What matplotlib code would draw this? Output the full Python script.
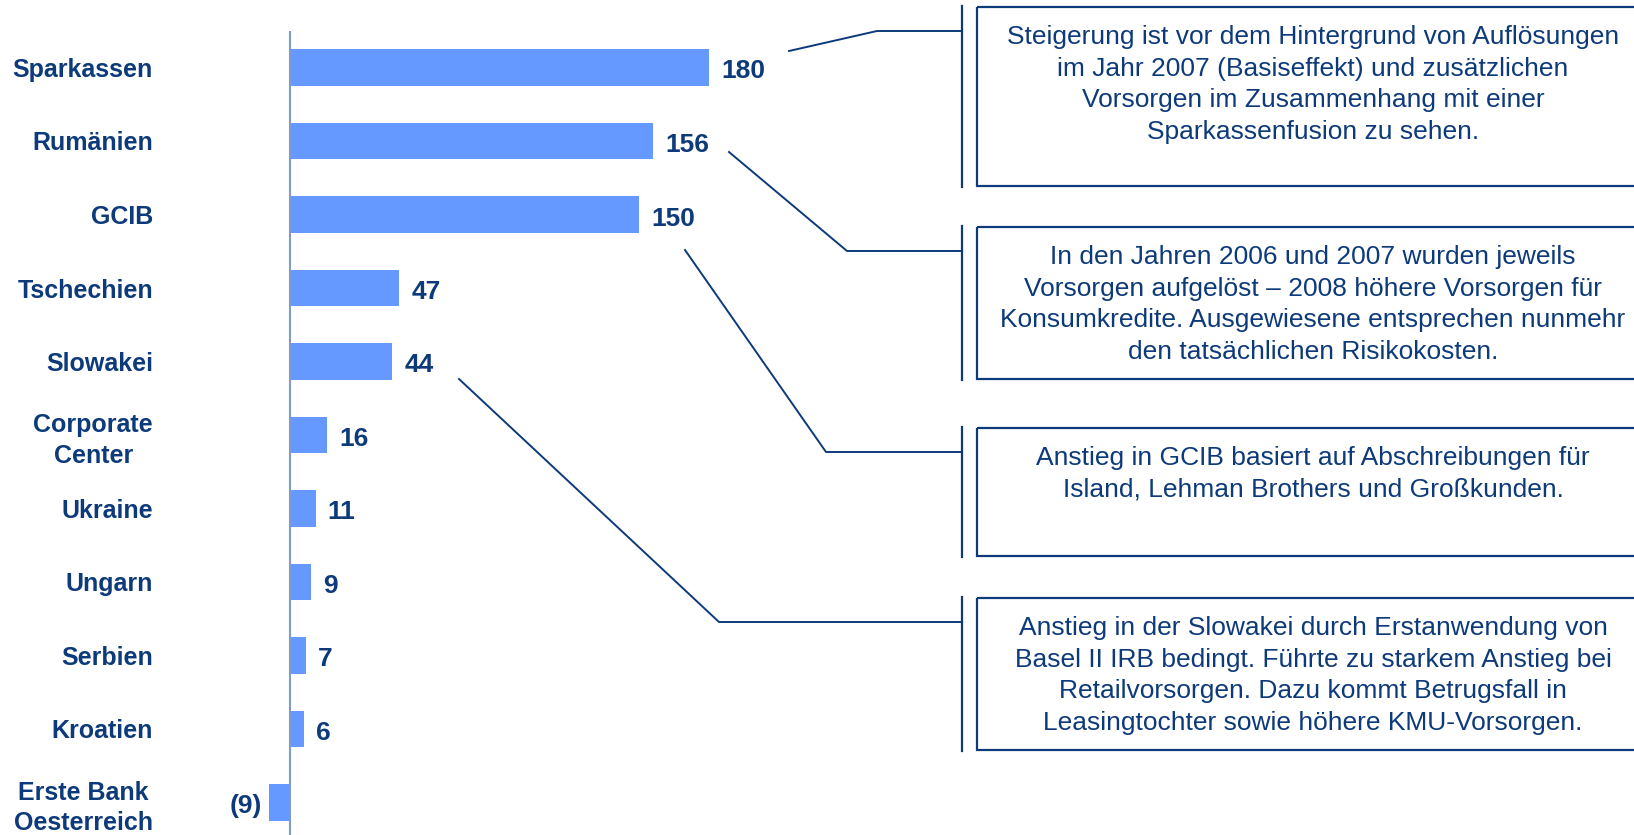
import numpy as np
import matplotlib
matplotlib.use("Agg")
import matplotlib.pyplot as plt
from matplotlib.patches import Rectangle

plt.rcParams['font.family'] = ['Liberation Sans', 'DejaVu Sans']

# data
categories = ["Sparkassen", "Rumänien", "GCIB", "Tschechien", "Slowakei",
              "Corporate\nCenter", "Ukraine", "Ungarn", "Serbien", "Kroatien",
              "Erste Bank\nOesterreich"]
values = [180, 156, 150, 47, 44, 16, 11, 9, 7, 6, -9]

notes = [
    "Steigerung ist vor dem Hintergrund von Auflösungen\nim Jahr 2007 (Basiseffekt) und zusätzlichen\n"
    "Vorsorgen im Zusammenhang mit einer\nSparkassenfusion zu sehen.",
    "In den Jahren 2006 und 2007 wurden jeweils\nVorsorgen aufgelöst – 2008 höhere Vorsorgen für\n"
    "Konsumkredite. Ausgewiesene entsprechen nunmehr\nden tatsächlichen Risikokosten.",
    "Anstieg in GCIB basiert auf Abschreibungen für\nIsland, Lehman Brothers und Großkunden.",
    "Anstieg in der Slowakei durch Erstanwendung von\nBasel II IRB bedingt. Führte zu starkem Anstieg bei\n"
    "Retailvorsorgen. Dazu kommt Betrugsfall in\nLeasingtochter sowie höhere KMU-Vorsorgen.",
]

dark = '#0D3A7A'
bar_col = '#6699FF'
axis_col = '#7F9BCB'

W, H = 1634, 835
fig = plt.figure(figsize=(W / 100, H / 100), dpi=100)

# bar axes: zero line at x=290 px, 2.328 px per unit, bars 73.5 px apart
ax_l, ax_r = 250, 950
px_unit = 2.328
ax = fig.add_axes([ax_l / W, 0, (ax_r - ax_l) / W, (H - 31) / H])
ax.set_xlim((ax_l - 290) / px_unit, (ax_r - 290) / px_unit)
ax.set_ylim((H - 67.5) / 73.5, (31 - 67.5) / 73.5)
ax.patch.set_alpha(0)
for s in ax.spines.values():
    s.set_visible(False)

y = np.arange(len(categories))
ax.barh(y, values, height=0.5, color=bar_col, zorder=2)
ax.axvline(0, color=axis_col, lw=1.5, zorder=3)

ax.set_xticks([])
ax.set_yticks(y)
ax.set_yticklabels(categories, fontsize=18, fontweight='bold', color=dark,
                   linespacing=1.33)
ax.tick_params(axis='y', length=0, pad=(ax_l - 153) * 0.72)
for t in ax.get_yticklabels():
    t.set_multialignment('center')

for yi, v in zip(y, values):
    if v >= 0:
        ax.annotate(str(v), (v, yi), xytext=(12, -4), textcoords='offset pixels',
                    ha='left', va='center', fontsize=19, fontweight='bold', color=dark)
    else:
        ax.annotate(f"({-v})", (v, yi), xytext=(-7, -4), textcoords='offset pixels',
                    ha='right', va='center', fontsize=19, fontweight='bold', color=dark)

# overlay in pixel coordinates for the note boxes and leader lines
ov = fig.add_axes([0, 0, 1, 1])
ov.set_xlim(0, W)
ov.set_ylim(H, 0)
ov.axis('off')

box_left, box_right, bracket_x = 977, 1649, 962
box_tops = [7, 227, 428, 598]
box_bottoms = [186, 379, 556, 750]
leader_starts = [(789, 51), (729, 152), (685, 250), (459, 379)]
elbow_x = [877, 847, 826, 719]

for note, top, bot, start, ex in zip(notes, box_tops, box_bottoms, leader_starts, elbow_x):
    ov.add_patch(Rectangle((box_left, top), box_right - box_left, bot - top,
                           fill=False, edgecolor=dark, lw=1.6, clip_on=False))
    ov.plot([bracket_x, bracket_x], [top - 1, bot + 1], color=dark, lw=1.6)
    cy = top + 24
    ov.plot([start[0], ex, bracket_x], [start[1], cy, cy], color=dark, lw=1.4)
    n = note.count("\n") + 1
    ov.text((box_left + box_right) / 2, top + 29.5 + (n - 1) * 16, note,
            ha='center', va='center', multialignment='center',
            fontsize=19, color=dark, linespacing=1.42)

fig.savefig("out.png", dpi=100)
